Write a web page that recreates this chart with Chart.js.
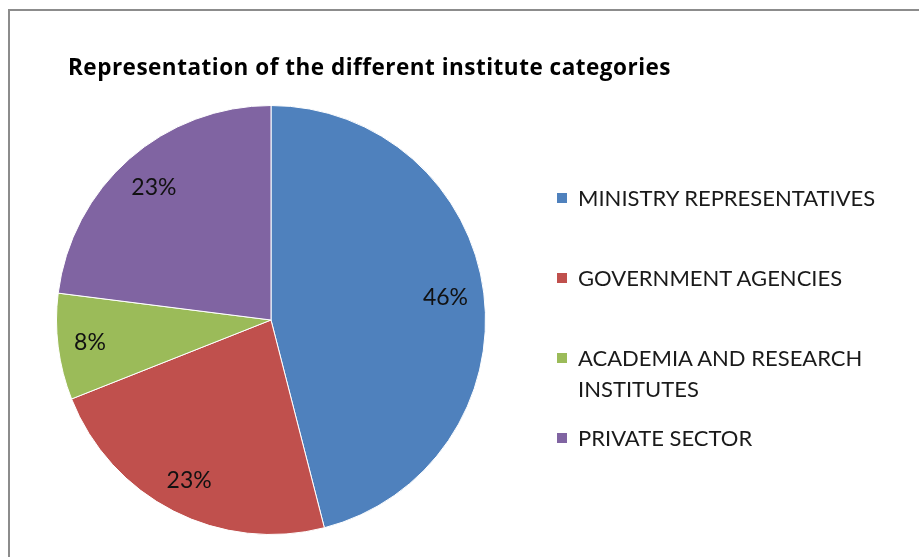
<!DOCTYPE html>
<html>
<head>
<meta charset="utf-8">
<script src="https://cdn.jsdelivr.net/npm/chart.js@4.4.1/dist/chart.umd.min.js"></script>
<style>
  html, body { margin: 0; padding: 0; background: #fff; overflow: hidden; }
  #wrap { position: relative; width: 919px; height: 557px; }
  #frame {
    position: absolute; left: 8px; top: 9px; width: 1000px; height: 700px;
    border: 2px solid #8c8c8c; box-sizing: border-box;
  }
  #chart { position: absolute; left: 0; top: 0; }
  #title {
    position: absolute; left: 68px; top: 51px; letter-spacing: 0.5px;
    font: bold 22.5px "Open Sans", sans-serif; color: #000; white-space: nowrap;
  }
  #legend {
    position: absolute; left: 557px; top: 182px; margin: 0; padding: 0;
    list-style: none; font: 22px Lato, sans-serif; color: #1a1a1a;
  }
  #legend li { position: relative; height: 80px; line-height: 31px; padding-left: 21px; }
  #legend li span {
    position: absolute; left: 0; top: 11px; width: 10px; height: 10px;
  }
</style>
</head>
<body>
<div id="wrap">
  <div id="frame"></div>
  <canvas id="chart" width="919" height="557"></canvas>
  <div id="title">Representation of the different institute categories</div>
  <ul id="legend"></ul>
</div>
<script>
var categories = ['MINISTRY REPRESENTATIVES', 'GOVERNMENT AGENCIES', 'ACADEMIA AND RESEARCH INSTITUTES', 'PRIVATE SECTOR'];
var legendLines = [['MINISTRY REPRESENTATIVES'], ['GOVERNMENT AGENCIES'], ['ACADEMIA AND RESEARCH', 'INSTITUTES'], ['PRIVATE SECTOR']];
var shares = [46, 23, 8, 23];
var colors = ['#4f81bd', '#c0504d', '#9bbb59', '#8064a2'];

// legend on the right, built by hand so the two-line entry wraps like the original
var legend = document.getElementById('legend');
for (var i = 0; i < categories.length; i++) {
    var li = document.createElement('li');
    var box = document.createElement('span');
    box.style.background = colors[i];
    li.appendChild(box);
    li.appendChild(document.createTextNode(legendLines[i][0]));
    for (var j = 1; j < legendLines[i].length; j++) {
        li.appendChild(document.createElement('br'));
        li.appendChild(document.createTextNode(legendLines[i][j]));
    }
    legend.appendChild(li);
}

var labelFont = '23px Lato';

// percentage labels placed just inside the rim of each slice
var sliceLabels = {
    id: 'sliceLabels',
    afterDatasetsDraw: function(chart) {
        var ctx = chart.ctx;
        var meta = chart.getDatasetMeta(0);
        ctx.save();
        ctx.font = labelFont + ', sans-serif';
        ctx.fillStyle = '#111';
        ctx.textAlign = 'center';
        ctx.textBaseline = 'middle';
        meta.data.forEach(function(arc, i) {
            var p = arc.getProps(['x', 'y', 'startAngle', 'endAngle', 'outerRadius'], true);
            var mid = (p.startAngle + p.endAngle) / 2;
            var text = shares[i] + '%';
            var w = ctx.measureText(text).width;
            var h = 20;
            var cx = Math.cos(mid), sy = Math.sin(mid);
            var d = p.outerRadius - (Math.abs(cx) * w / 2 + Math.abs(sy) * h / 2) - 15;
            ctx.fillText(text, p.x + cx * d, p.y + sy * d);
        });
        ctx.restore();
    }
};

function drawChart() {
    var ctx = document.getElementById('chart').getContext('2d');
    return new Chart(ctx, {
        type: 'pie',
        data: {
            labels: categories,
            datasets: [{
                data: shares,
                backgroundColor: colors,
                borderColor: '#ffffff',
                borderWidth: 1
            }]
        },
        options: {
            responsive: false,
            animation: false,
            layout: {
                padding: { left: 56, top: 105, right: 433, bottom: 22 }
            },
            plugins: {
                legend: { display: false },
                title: { display: false },
                tooltip: { enabled: false }
            }
        },
        plugins: [sliceLabels]
    });
}

var myChart;
// make sure the canvas font is ready before the labels get painted
document.fonts.load(labelFont).then(function() {
    myChart = drawChart();
}, function() {
    myChart = drawChart();
});
</script>
</body>
</html>
